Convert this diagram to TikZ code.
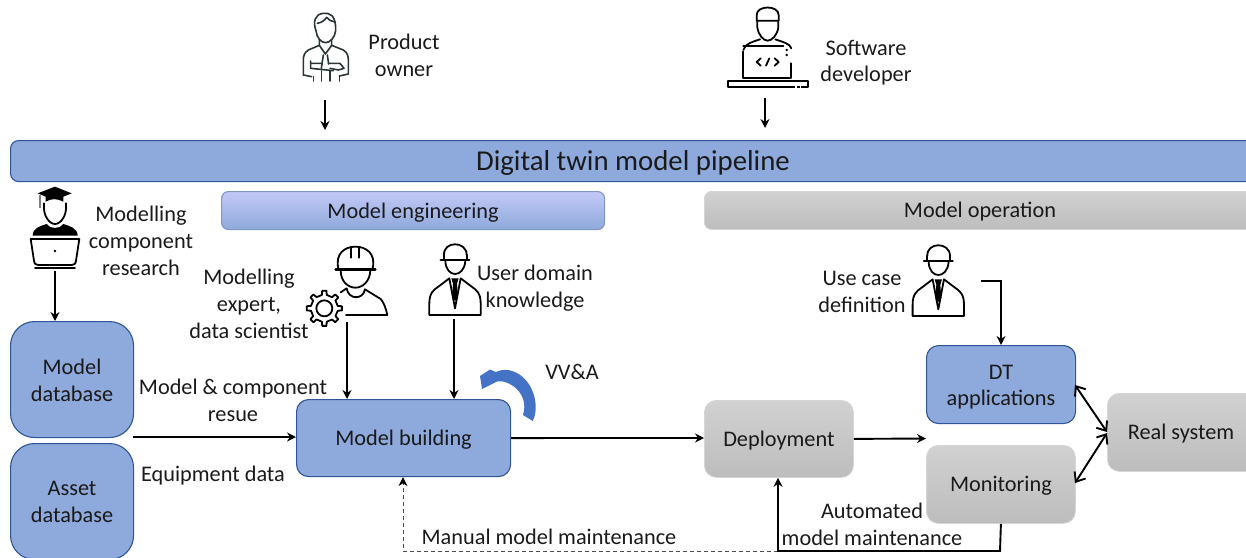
\documentclass[tikz,border=0pt]{standalone}
\usepackage{fontspec}
\setmainfont{Carlito}
\usetikzlibrary{arrows.meta}
\definecolor{bluefill}{HTML}{8EA9DB}
\definecolor{blueedge}{HTML}{2F5597}
\definecolor{curvedblue}{HTML}{4472C4}
\definecolor{txt}{HTML}{1A1A1A}
\definecolor{icondark}{HTML}{2A3535}
\newcommand{\dn}{\rule{0pt}{19.5pt}}
\tikzset{
  x=1pt,y=-1pt,
  lab/.style={text=txt,align=center,inner sep=0pt,font=\fontsize{22.3}{26.8}\selectfont},
  bluebox/.style={lab,rectangle,rounded corners=12,fill=bluefill,draw=blueedge,line width=1.1pt,anchor=north west},
  graybox/.style={lab,rectangle,rounded corners=12,top color=gray!36!white,bottom color=gray!52!white,draw=gray!32!white,line width=.8pt,anchor=north west},
  conn/.style={black,line width=1.9pt,-{Stealth[length=9pt,width=9pt]}},
  twoway/.style={black,line width=1.9pt,{Straight Barb[length=8pt,width=13pt]}-{Straight Barb[length=8pt,width=13pt]}},
  dashconn/.style={black!70,line width=.9pt,dash pattern=on 4pt off 3pt,-{Stealth[length=9pt,width=9pt,black]}},
  ic/.style={line width=1.8pt,line cap=round,line join=round,draw=black},
  ics/.style={line width=1.6pt,line cap=round,line join=round,draw=icondark},
}
\newcommand{\bossicon}{%
  \draw[ic] (462,60) .. controls (460,17) and (530,17) .. (530,60);
  \draw[ic,line width=2.4pt] (452,75) -- (538,75);
  \draw[ic] (462,60) -- (462,75) (530,60) -- (530,75);
  \draw[ic] (466,78) .. controls (468,130) and (522,130) .. (526,78);
  \draw[ic] (418,240) -- (572,240) -- (572,205) .. controls (572,175) and (560,165) .. (545,155) -- (512,130) -- (495,220) -- (478,130) -- (445,155) .. controls (430,165) and (418,175) .. (418,205) -- cycle;
  \fill[black] (484,130) -- (506,130) -- (501,146) -- (504,186) -- (495,198) -- (486,186) -- (489,146) -- cycle;
}
\begin{document}
\begin{tikzpicture}
\useasboundingbox (0,0) rectangle (1246,557);

% boxes
\node[bluebox,minimum width=1270pt,minimum height=41pt,rounded corners=8] (pipe) at (10,140) {};
\node[lab,font=\fontsize{28.8}{32}\selectfont] (pipetext) at (633,161) {\rule{0pt}{24pt}Digital twin model pipeline};
\node[bluebox,minimum width=383pt,minimum height=38pt,rounded corners=7,top color=bluefill!60!blue!35!white,bottom color=bluefill,draw=bluefill!90!black] (eng) at (221,191) {\dn Model engineering};
\node[graybox,minimum width=570pt,minimum height=38pt,rounded corners=7] (opbox) at (704,191) {};
\node[lab] (optext) at (980,210) {\dn Model operation};
\node[bluebox,minimum width=123pt,minimum height=116pt,rounded corners=24] (mdb) at (10,321) {\rule{0pt}{17.5pt}Model\\database};
\node[bluebox,minimum width=123pt,minimum height=116pt,rounded corners=24] (adb) at (10,443) {Asset\\database};
\node[bluebox,minimum width=214pt,minimum height=77pt] (mb) at (296,399) {\dn Model building};
\node[graybox,minimum width=149pt,minimum height=77pt] (dep) at (704,400) {\dn Deployment};
\node[bluebox,minimum width=149pt,minimum height=78pt] (dt) at (926,345) {\dn DT\\applications};
\node[graybox,minimum width=149pt,minimum height=78pt] (mon) at (926,445) {\rule{0pt}{17.5pt}Monitoring};
\node[graybox,minimum width=170pt,minimum height=78pt] (real) at (1107,393) {};
\node[lab] (realtext) at (1181,432) {\dn Real system};

% labels
\node[lab] (lpo) at (404,53.5) {\dn Product\\owner};
\node[lab] (lsd) at (866,60.5) {\dn Software\\developer};
\node[lab] (lmc) at (141,239) {\dn Modelling\\component\\research};
\node[lab] (lme) at (249,302) {\dn Modelling\\expert,\\data scientist};
\node[lab] (lud) at (535,286.5) {\dn User domain\\knowledge};
\node[lab] (lmr) at (233,398) {\dn Model \& component\\resue};
\node[lab] (leq) at (213,474) {\dn Equipment data};
\node[lab] (lvv) at (572,370) {\dn VV\&A};
\node[lab] (luc) at (862,289) {\dn Use case\\definition};
\node[lab] (lam) at (872,522) {\dn Automated\\model maintenance};
\node[lab] (lmm) at (549,534.5) {\dn Manual model maintenance};

% product owner icon
\begin{scope}[shift={(280,0)},scale=1/3]
  \draw[ics] (108,92) .. controls (98,65) and (105,42) .. (130,40) .. controls (150,38) and (168,45) .. (167,92) .. controls (165,112) and (150,128) .. (137,128) .. controls (122,128) and (110,112) .. (108,92) -- cycle;
  \draw[ics] (112,70) .. controls (125,68) and (135,60) .. (140,52) .. controls (145,60) and (155,65) .. (165,66);
  \draw[ics] (118,120) -- (118,136) -- (85,150) .. controls (72,158) and (70,170) .. (70,180) -- (70,225) -- (95,230);
  \draw[ics] (155,120) -- (155,136) -- (190,150) .. controls (203,158) and (205,170) .. (205,180) -- (205,222) -- (178,228);
  \draw[ics] (118,136) -- (136,162) -- (155,136);
  \draw[ics] (130,165) -- (124,205) (142,165) -- (146,192);
  \draw[ics] (92,183) -- (92,205) -- (160,212) (92,190) -- (125,190);
  \draw[ics] (145,190) -- (180,190) -- (192,205) -- (175,210) -- (150,205);
  \draw[ics] (100,230) -- (100,243) (125,212) -- (125,243) (150,212) -- (150,243) (178,228) -- (178,243);
\end{scope}

% software developer icon
\begin{scope}[shift={(700,0)},scale=1/3]
  \draw[ic] (170,62) -- (170,45) .. controls (170,15) and (236,15) .. (236,45) -- (236,62) -- cycle;
  \draw[ic] (172,62) -- (172,82) .. controls (175,105) and (190,122) .. (203,122) .. controls (216,122) and (232,105) .. (235,82) -- (235,62);
  \draw[ic] (130,155) -- (130,235) -- (272,235) -- (272,190);
  \draw[ic] (130,150) .. controls (135,130) and (160,125) .. (180,118);
  \draw[ic] (226,118) .. controls (245,125) and (270,130) .. (274,145);
  \draw[ic] (130,138) -- (250,138);
  \fill (260,150) circle (4) (260,165) circle (4);
  \draw[ic,line width=1.8pt] (182,175) -- (170,186) -- (182,197);
  \draw[ic,line width=1.8pt] (208,175) -- (198,197);
  \draw[ic,line width=1.8pt] (224,175) -- (236,186) -- (224,197);
  \draw[ic,line width=2.2pt] (83,243) rectangle (324,260);
  \draw[white,line width=2pt] (285,260) -- (290,260) (300,260) -- (303,260);
\end{scope}

% research icon
\begin{scope}[shift={(0,170)},scale=1/3]
  \fill[black] (113,70) -- (165,50) -- (215,70) -- (190,80) -- (190,95) .. controls (170,85) and (155,85) .. (137,95) -- (137,80) -- cycle;
  \draw[gray,line width=1.2pt] (120,74) -- (120,115);
  \draw[ic] (132,100) .. controls (128,140) and (150,162) .. (165,162) .. controls (180,162) and (202,140) .. (198,100);
  \fill[black] (98,197) .. controls (98,175) and (120,168) .. (140,162) .. controls (150,178) and (180,178) .. (190,162) .. controls (210,168) and (233,175) .. (233,197) -- cycle;
  \draw[ic] (92,207) -- (238,207) -- (228,272) .. controls (227,282) and (222,285) .. (215,285) -- (115,285) .. controls (108,285) and (103,282) .. (102,272) -- cycle;
  \fill (165,243) circle (4);
  \draw[ic] (105,294) -- (225,294);
\end{scope}

% modelling expert icon
\begin{scope}[shift={(290,235)},scale=1/3]
  \draw[ic] (145,100) .. controls (135,55) and (165,35) .. (196,35) .. controls (228,35) and (258,55) .. (248,100);
  \draw[ic,line width=2.4pt] (137,103) -- (256,103);
  \draw[ic] (184,68) -- (184,36) (208,36) -- (208,68);
  \draw[ic] (152,106) .. controls (152,140) and (175,158) .. (196,158) .. controls (217,158) and (240,140) .. (241,106);
  \draw[ic] (152,172) -- (170,160) .. controls (175,195) and (220,195) .. (225,163) -- (272,192) .. controls (280,200) and (288,220) .. (292,240) -- (168,240);
  \draw[ic] (103,220) circle (24);
  \draw[ic] ({103+41*cos(324)},{220+41*sin(324)})
    \foreach \a in {0,45,...,315} { -- ({103+40*cos(\a-16)},{220+40*sin(\a-16)}) -- ({103+41*cos(\a-10)},{220+41*sin(\a-10)}) -- ({103+53*cos(\a-7)},{220+53*sin(\a-7)}) -- ({103+53*cos(\a+7)},{220+53*sin(\a+7)}) -- ({103+41*cos(\a+10)},{220+41*sin(\a+10)}) } -- cycle;
\end{scope}

% user domain icon
\begin{scope}[shift={(290,235)},scale=1/3]
  \bossicon
\end{scope}
% use case icon
\begin{scope}[shift={(773.3,236)},scale=1/3]
  \bossicon
\end{scope}

% curved arrow VV&A
\fill[curvedblue] (532.7,421) .. controls (541,405) and (532,374) .. (508,370) .. controls (503,369.5) and (499,370.5) .. (496,372) -- (490,369.5) -- (480,376) -- (482,389) -- (497,381.5) .. controls (507,379) and (530,392) .. (523,415) -- cycle;

% free ends of connectors
\coordinate (pofoot) at (325,100);
\coordinate (sdfoot) at (765,98);
\coordinate (pipeP) at (325,130);
\coordinate (pipeS) at (765,128);
\coordinate (resfoot) at (55,271);
\coordinate (expfoot) at (347,322);
\coordinate (usrfoot) at (454,319);
\coordinate (ucfoot) at (981,281);
\coordinate (dbline) at (133,437);
\coordinate (depin) at (704,438);
\coordinate (nextin) at (926,438.5);
\coordinate (mloop) at (1000,551);
\coordinate (dloop) at (778,551);
\coordinate (bloop) at (403,551);
\coordinate (dtpt) at (1075,385);
\coordinate (monpt) at (1075,483);
\coordinate (realpt1) at (1107,432);
\coordinate (realpt2) at (1107,433);

% connectors
\draw[conn] (pofoot) -- (pipeP);
\draw[conn] (sdfoot) -- (pipeS);
\draw[conn] (resfoot) -- (resfoot |- mdb.north);
\draw[conn] (expfoot) -- (expfoot |- mb.north);
\draw[conn] (usrfoot) -- (usrfoot |- mb.north);
\draw[conn] (ucfoot) -| (dt.north);
\draw[conn] (dbline) -- (dbline -| mb.west);
\draw[conn] (mb.east) -- (depin);
\draw[conn] (dep.east) -- (nextin);
\draw[twoway] (dtpt) -- (realpt1);
\draw[twoway] (monpt) -- (realpt2);
\draw[dashconn] (dloop) -- (bloop) -- (bloop |- mb.south);
\draw[conn,line join=miter] (mon.south) -- (mloop) -- (dloop) -- (dloop |- dep.south);
\end{tikzpicture}
\end{document}
